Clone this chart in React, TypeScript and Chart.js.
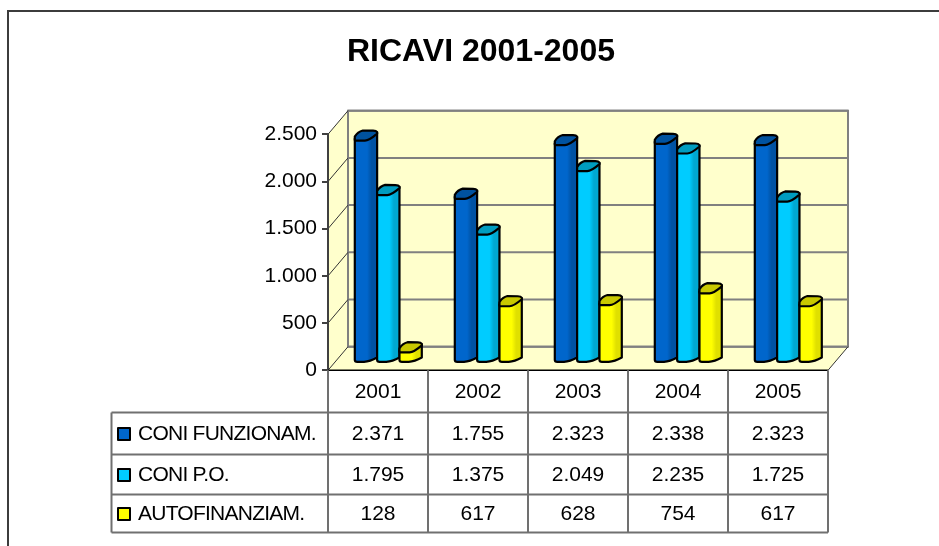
import React, { useEffect, useRef } from "react";
import { Chart, registerables } from "chart.js";

Chart.register(...registerables);

const years = ["2001", "2002", "2003", "2004", "2005"];
const seriesNames = ["CONI FUNZIONAM.", "CONI P.O.", "AUTOFINANZIAM."];
const coniFunzionam = [2371, 1755, 2323, 2338, 2323];
const coniPO = [1795, 1375, 2049, 2235, 1725];
const autofinanziam = [128, 617, 628, 754, 617];
const tableValues = [coniFunzionam, coniPO, autofinanziam];
const frontColors = ["#0066CC", "#00CCFF", "#FFFF00"];
const darkColors = ["#0052A3", "#00A8D2", "#E0E000"];
const capColors = ["#00529F", "#009CC0", "#C8C800"];
const tableRowLines = [412.5, 454.5, 494.5, 532.5];
const FONT = "'Liberation Sans', Arial, sans-serif";

const fmt = (v: number) => String(v).replace(/\B(?=(\d{3})+(?!\d))/g, ".");

const DX = 20;
const DY = 23.6;

const scene: any = {
  id: "scene",
  afterLayout(chart: any) {
    chart.titleBlock.left = 23;
    chart.titleBlock.right = 939;
  },
  beforeDraw(chart: any) {
    const { ctx, scales: { x, y } } = chart;
    const L = x.left, R = x.right, B = y.getPixelForValue(0), T = y.getPixelForValue(2500);
    ctx.save();
    // frame
    ctx.strokeStyle = "#3c3c3c";
    ctx.lineWidth = 2;
    ctx.beginPath();
    ctx.moveTo(8, 546);
    ctx.lineTo(8, 11);
    ctx.lineTo(939, 11);
    ctx.stroke();
    // walls
    ctx.fillStyle = "#FFFFCC";
    ctx.beginPath();
    ctx.moveTo(L, B);
    ctx.lineTo(L, T);
    ctx.lineTo(L + DX, T - DY);
    ctx.lineTo(R + DX, T - DY);
    ctx.lineTo(R + DX, B - DY);
    ctx.lineTo(R, B);
    ctx.closePath();
    ctx.fill();
    // back gridlines
    ctx.strokeStyle = "#808080";
    ctx.lineWidth = 2;
    for (const v of y.ticks.map((t: any) => t.value)) {
      const p = y.getPixelForValue(v) - DY;
      ctx.beginPath();
      ctx.moveTo(L + DX, p);
      ctx.lineTo(R + DX, p);
      ctx.stroke();
    }
    ctx.strokeRect(L + DX, T - DY, R - L, B - T);
    // side diagonals
    ctx.lineWidth = 1;
    ctx.strokeStyle = "#333333";
    for (const v of y.ticks.map((t: any) => t.value)) {
      const p = y.getPixelForValue(v);
      ctx.beginPath();
      ctx.moveTo(L, p);
      ctx.lineTo(L + DX, p - DY);
      ctx.stroke();
    }
    ctx.beginPath();
    ctx.moveTo(R, B);
    ctx.lineTo(R + DX, B - DY);
    ctx.stroke();
    ctx.restore();
  },
  beforeDatasetDraw() {
    return false;
  },
  afterDatasetsDraw(chart: any) {
    const { ctx, scales: { x, y } } = chart;
    const L = x.left, R = x.right, B = y.getPixelForValue(0);
    ctx.save();
    // bars
    chart.data.datasets.forEach((ds: any, di: number) => {
      chart.getDatasetMeta(di).data.forEach((bar: any) => {
        const xc = bar.x + 10.3;
        const w = bar.width;
        const xL = xc - w / 2, xR = xc + w / 2;
        const cy = bar.y - 10.8;
        const by = bar.base - 11.3;
        const g = ctx.createLinearGradient(xL, 0, xR, 0);
        g.addColorStop(0, frontColors[di]);
        g.addColorStop(0.55, frontColors[di]);
        g.addColorStop(0.75, darkColors[di]);
        g.addColorStop(1, darkColors[di]);
        ctx.lineWidth = 2.2;
        ctx.strokeStyle = "#000000";
        ctx.lineJoin = "round";
        ctx.fillStyle = g;
        ctx.beginPath();
        ctx.moveTo(xL, cy + 3);
        ctx.lineTo(xL, by + 2);
        ctx.quadraticCurveTo(xL, by + 3.8, xL + 2.5, by + 3.8);
        ctx.lineTo(xc - 2, by + 3.8);
        ctx.quadraticCurveTo(xc + 4, by + 3.5, xR, by - 0.5);
        ctx.lineTo(xR, cy - 3);
        ctx.closePath();
        ctx.fill();
        ctx.stroke();
        ctx.fillStyle = capColors[di];
        ctx.beginPath();
        ctx.moveTo(xL, cy + 1);
        ctx.lineTo(xL, cy + 4);
        ctx.quadraticCurveTo(xL, cy + 5, xL + 2, cy + 5);
        ctx.lineTo(xc - 1, cy + 5);
        ctx.quadraticCurveTo(xc + 3, cy + 5, xR, cy - 2);
        ctx.lineTo(xR, cy - 3.5);
        ctx.quadraticCurveTo(xR - 1, cy - 5, xR - 4, cy - 5);
        ctx.lineTo(xL + 8, cy - 5.2);
        ctx.quadraticCurveTo(xL + 3, cy - 4, xL, cy + 1);
        ctx.closePath();
        ctx.fill();
        ctx.stroke();
      });
    });
    // front edge
    ctx.strokeStyle = "#000000";
    ctx.lineWidth = 1.5;
    ctx.beginPath();
    ctx.moveTo(L, B);
    ctx.lineTo(R, B);
    ctx.stroke();
    // data table
    const step = (R - L) / years.length;
    const tblLeft = 111.5;
    const last = tableRowLines[tableRowLines.length - 1];
    ctx.strokeStyle = "#707070";
    ctx.lineWidth = 2;
    ctx.beginPath();
    ctx.moveTo(L, B);
    ctx.lineTo(L, last);
    for (let i = 1; i <= years.length; i++) {
      ctx.moveTo(L + i * step, B);
      ctx.lineTo(L + i * step, last);
    }
    tableRowLines.forEach((ry) => {
      ctx.moveTo(tblLeft, ry);
      ctx.lineTo(R, ry);
    });
    ctx.moveTo(tblLeft, tableRowLines[0]);
    ctx.lineTo(tblLeft, last);
    ctx.stroke();
    ctx.textBaseline = "middle";
    seriesNames.forEach((name, r) => {
      const cy = (tableRowLines[r] + tableRowLines[r + 1]) / 2 + 0.5;
      ctx.fillStyle = frontColors[r];
      ctx.strokeStyle = "#000000";
      ctx.lineWidth = 2;
      ctx.fillRect(118, cy - 6, 12, 12);
      ctx.strokeRect(118, cy - 6, 12, 12);
      ctx.fillStyle = "#000000";
      ctx.font = `21px ${FONT}`;
      ctx.textAlign = "left";
      ctx.letterSpacing = "-0.75px";
      ctx.fillText(name, 138, cy);
      ctx.letterSpacing = "0px";
      ctx.textAlign = "center";
      tableValues[r].forEach((v, c) => {
        ctx.fillText(fmt(v), x.getPixelForValue(c), cy);
      });
    });
    ctx.restore();
  },
};

export default function App() {
  const ref = useRef<HTMLCanvasElement>(null);
  useEffect(() => {
    document.body.style.margin = "0";
    const chart = new Chart(ref.current!, {
      type: "bar",
      data: {
        labels: years,
        datasets: [coniFunzionam, coniPO, autofinanziam].map((data, i) => ({
          label: seriesNames[i],
          data,
          backgroundColor: frontColors[i],
          categoryPercentage: 0.67,
          barPercentage: 1,
        })),
      },
      options: {
        responsive: false,
        animation: false,
        layout: { padding: { left: 0, right: 111, top: 0, bottom: 0 } },
        plugins: {
          legend: { display: false },
          tooltip: { enabled: false },
          title: {
            display: true,
            text: "RICAVI 2001-2005",
            color: "#000000",
            font: { family: FONT, size: 32, weight: "bold", lineHeight: 1.2 },
            padding: { top: 33, bottom: 134.3 - 33 - 38.4 },
          },
        },
        scales: {
          x: {
            afterFit(s: any) { s.height = 546 - 370.3; },
            grid: { display: false },
            border: { display: false },
            ticks: { color: "#000000", font: { family: FONT, size: 21 }, padding: 1, maxRotation: 0 },
          },
          y: {
            min: 0,
            max: 2500,
            afterFit(s: any) { s.width = 328; },
            grid: { drawOnChartArea: false, tickLength: 6, color: "#404040", lineWidth: 2 },
            border: { display: true, color: "#404040", width: 2 },
            ticks: {
              stepSize: 500,
              color: "#000000",
              font: { family: FONT, size: 21 },
              padding: 5,
              callback: (v: any) => fmt(Number(v)),
            },
          },
        },
      },
      plugins: [scene],
    } as any);
    return () => chart.destroy();
  }, []);
  return <canvas ref={ref} width={939} height={546} style={{ display: "block" }} />;
}
